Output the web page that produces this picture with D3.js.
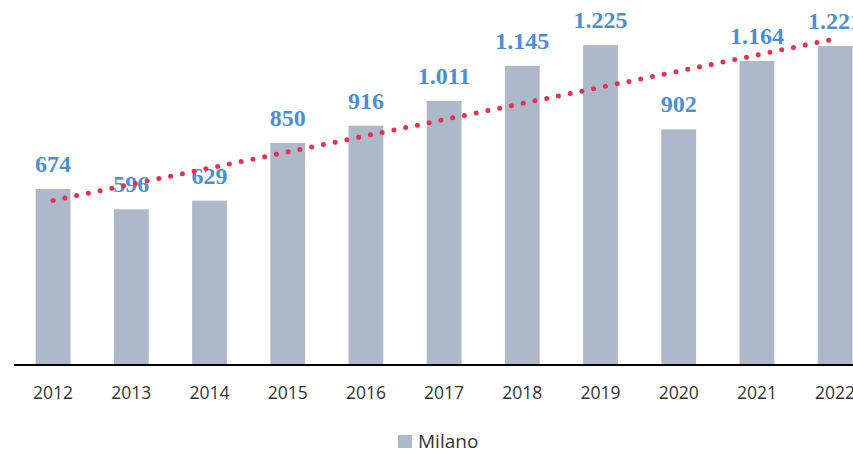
<!DOCTYPE html>
<html>
<head>
<meta charset="utf-8">
<script src="https://cdn.jsdelivr.net/npm/d3@7"></script>
<style>
  body { margin: 0; background: #fff; }
  svg { display: block; }
  .tick text { font-family: "Open Sans", "Noto Sans", sans-serif; font-size: 17.5px; fill: #333; }
  .value-label { font-family: "Liberation Serif", "DejaVu Serif", serif; font-weight: bold; font-size: 24px; fill: #4a8fd6; }
  .legend text { font-family: "Open Sans", "Noto Sans", sans-serif; font-size: 19px; fill: #333; }
</style>
</head>
<body>
<div id="wrapper"></div>
<script>
const years = ["2012", "2013", "2014", "2015", "2016", "2017", "2018", "2019", "2020", "2021", "2022"]
const milano = [674, 596, 629, 850, 916, 1011, 1145, 1225, 902, 1164, 1221]
const seriesName = "Milano"

function drawChart() {
    const dataset = years.map((y, i) => ({year: y, value: milano[i]}))
    const xAccessor = d => d.year
    const yAccessor = d => d.value

    // dimensions
    let dimensions = {
        width: 853,
        height: 452,
        margin: {top: 10, left: 14, baseline: 365},
    }

    const wrapper = d3.select("#wrapper")
        .append("svg")
        .attr("width", dimensions.width)
        .attr("height", dimensions.height)

    // scales
    const xScale = d3.scaleBand()
        .domain(years)
        .range([dimensions.margin.left, dimensions.margin.left + 78.2 * years.length])
        .paddingInner(0.555)
        .paddingOuter(0.2775)

    const yScale = d3.scaleLinear()
        .domain([0, 1225])
        .range([dimensions.margin.baseline, 45])

    // bars
    wrapper.append("g")
        .selectAll("rect")
        .data(dataset)
        .join("rect")
        .attr("x", d => xScale(xAccessor(d)))
        .attr("y", d => yScale(yAccessor(d)))
        .attr("width", xScale.bandwidth())
        .attr("height", d => yScale(0) - yScale(yAccessor(d)))
        .attr("fill", "#adb9ca")

    // linear trend line (least squares)
    const n = dataset.length
    const meanX = (n - 1) / 2
    const meanY = d3.mean(milano)
    const slope = d3.sum(milano, (v, i) => (i - meanX) * (v - meanY)) / d3.sum(milano, (v, i) => (i - meanX) ** 2)
    const trend = dataset.map((d, i) => ({year: d.year, value: meanY + slope * (i - meanX)}))

    const lineGenerator = d3.line()
        .x(d => xScale(xAccessor(d)) + xScale.bandwidth() / 2)
        .y(d => yScale(yAccessor(d)))

    // value labels
    const fmt = v => d3.format(",")(v).replace(",", ".")
    wrapper.append("g")
        .selectAll("text")
        .data(dataset)
        .join("text")
        .attr("class", "value-label")
        .attr("x", d => xScale(xAccessor(d)) + xScale.bandwidth() / 2)
        .attr("y", d => yScale(yAccessor(d)) - 17)
        .attr("text-anchor", "middle")
        .text(d => fmt(yAccessor(d)))

    wrapper.append("path")
        .attr("d", lineGenerator(trend))
        .attr("fill", "none")
        .attr("stroke", "#e8304e")
        .attr("stroke-width", 5)
        .attr("stroke-linecap", "round")
        .attr("stroke-dasharray", "0 12")

    // x axis
    const xAxis = wrapper.append("g")
        .attr("transform", `translate(0, ${dimensions.margin.baseline})`)
        .call(d3.axisBottom(xScale).tickSize(0).tickPadding(22))
    xAxis.select(".domain")
        .attr("d", `M${dimensions.margin.left},0H${dimensions.width + 40}`)
        .attr("stroke", "#000")
        .attr("stroke-width", 2)

    // legend
    const legend = wrapper.append("g")
        .attr("class", "legend")
        .attr("transform", "translate(398, 435)")
    legend.append("rect")
        .attr("width", 14)
        .attr("height", 13)
        .attr("fill", "#adb9ca")
    legend.append("text")
        .attr("x", 20)
        .attr("y", 13)
        .text(seriesName)
}

drawChart()
</script>
</body>
</html>
